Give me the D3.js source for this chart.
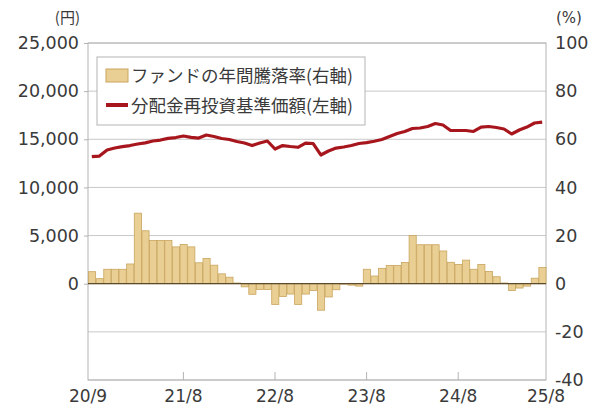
<!DOCTYPE html>
<html>
<head>
<meta charset="utf-8">
<script src="https://cdn.jsdelivr.net/npm/d3@7/dist/d3.min.js"></script>
<style>
  html, body { margin: 0; padding: 0; background: #fff; overflow: hidden; }
  svg { display: block; }
</style>
</head>
<body>
<svg id="chart"></svg>
<script>
// 月（20/9 〜 25/8）
const months = [
  '20/9','20/10','20/11','20/12',
  '21/1','21/2','21/3','21/4','21/5','21/6','21/7','21/8','21/9','21/10','21/11','21/12',
  '22/1','22/2','22/3','22/4','22/5','22/6','22/7','22/8','22/9','22/10','22/11','22/12',
  '23/1','23/2','23/3','23/4','23/5','23/6','23/7','23/8','23/9','23/10','23/11','23/12',
  '24/1','24/2','24/3','24/4','24/5','24/6','24/7','24/8','24/9','24/10','24/11','24/12',
  '25/1','25/2','25/3','25/4','25/5','25/6','25/7','25/8'
];
// ファンドの年間騰落率（%、右軸）
const annualReturn = [
  5.0, 2.1, 6.0, 6.0, 6.0, 8.2, 29.3, 22.0, 18.0, 18.0, 18.0, 15.3,
  16.3, 15.3, 8.7, 10.5, 7.7, 4.1, 2.7, 0.3, -1.3, -4.4, -2.4, -2.4,
  -8.6, -5.3, -4.3, -8.6, -4.3, -2.8, -11.0, -5.5, -2.5, -0.2, -0.6, -1.0,
  6.0, 3.2, 6.4, 7.6, 7.6, 8.8, 20.0, 16.2, 16.2, 16.2, 13.6, 8.9,
  8.0, 9.8, 6.0, 8.0, 5.1, 2.9, 0.3, -2.8, -1.8, -1.0, 2.3, 6.7
];
// 分配金再投資基準価額（円、左軸）
const navReinvested = [
  13190, 13260, 13890, 14090, 14230, 14350, 14510, 14630, 14820, 14920, 15100, 15180,
  15340, 15200, 15130, 15440, 15290, 15080, 14980, 14770, 14610, 14350, 14610, 14820,
  13990, 14350, 14250, 14170, 14610, 14560, 13370, 13780, 14090, 14200, 14350, 14560,
  14660, 14800, 14980, 15290, 15600, 15810, 16120, 16170, 16330, 16640, 16480, 15910,
  15910, 15910, 15810, 16270, 16330, 16220, 16070, 15550, 15960, 16270, 16690, 16790
];
const xTickLabels = ['20/9', '21/8', '22/8', '23/8', '24/8', '25/8'];
const leftTicks = [0, 5000, 10000, 15000, 20000, 25000];
const rightTicks = [-40, -20, 0, 20, 40, 60, 80, 100];
const legendLabels = ['ファンドの年間騰落率(右軸)', '分配金再投資基準価額(左軸)'];

const width = 596, height = 410;
const margin = { top: 43, right: 50, bottom: 30, left: 88 };
const innerWidth = width - margin.left - margin.right;
const innerHeight = height - margin.top - margin.bottom;
const numFont = 'DejaVu Sans, Liberation Sans, sans-serif';
const jpFont = 'Noto Sans CJK JP, sans-serif';
const textColor = '#3a3a3a';

const svg = d3.select('#chart').attr('width', width).attr('height', height);
const g = svg.append('g').attr('transform', `translate(${margin.left},${margin.top})`);

const x = d3.scaleBand().domain(months).range([0, innerWidth]).padding(0);
const yR = d3.scaleLinear().domain([-40, 100]).range([innerHeight, 0]);
const yL = d3.scaleLinear().domain([-10000, 25000]).range([innerHeight, 0]);
const bw = x.bandwidth();

// 罫線
g.append('g')
  .selectAll('line')
  .data(rightTicks.filter(d => d !== 0))
  .join('line')
  .attr('x1', 0).attr('x2', innerWidth)
  .attr('y1', d => yR(d)).attr('y2', d => yR(d))
  .attr('stroke', '#c8c8c8').attr('stroke-width', 1);

// 枠
g.append('rect')
  .attr('x', 0).attr('y', 0)
  .attr('width', innerWidth).attr('height', innerHeight)
  .attr('fill', 'none').attr('stroke', '#b4b4b4');

// 左軸
const axisLeft = d3.axisLeft(yL).tickValues(leftTicks).tickSize(4).tickSizeOuter(0)
  .tickFormat(d3.format(','));
const gl = g.append('g').call(axisLeft)
  .attr('font-size', 17.5).attr('font-family', numFont);
gl.select('.domain').remove();
gl.selectAll('.tick line').attr('stroke', '#b4b4b4');
gl.selectAll('.tick text').attr('x', -9).attr('fill', textColor);

// 右軸
const axisRight = d3.axisRight(yR).tickValues(rightTicks).tickSize(0);
const gr = g.append('g').attr('transform', `translate(${innerWidth},0)`).call(axisRight)
  .attr('font-size', 17.5).attr('font-family', numFont);
gr.select('.domain').remove();
gr.selectAll('.tick text').attr('x', 9).attr('fill', textColor)
  .text(d => d < 0 ? '-' + Math.abs(d) : d);

// 下軸
const tickPos = (m, i) => i === 0 ? 0 : Math.min(x(m) + bw * 1.5, innerWidth);
const gx = g.append('g').attr('transform', `translate(0,${innerHeight})`);
gx.selectAll('line')
  .data(xTickLabels.slice(1, -1))
  .join('line')
  .attr('x1', (m, i) => tickPos(m, i + 1)).attr('x2', (m, i) => tickPos(m, i + 1))
  .attr('y1', 0).attr('y2', -8)
  .attr('stroke', '#b4b4b4');
gx.selectAll('text')
  .data(xTickLabels)
  .join('text')
  .attr('x', (m, i) => tickPos(m, i))
  .attr('y', 22)
  .attr('text-anchor', 'middle')
  .attr('font-size', 17)
  .attr('font-family', numFont)
  .attr('fill', textColor)
  .text(d => d);

// 単位
svg.append('text').attr('x', 80).attr('y', 23).attr('text-anchor', 'end')
  .attr('font-family', jpFont).attr('font-size', 15).attr('fill', textColor).text('(円)');
svg.append('text').attr('x', 556).attr('y', 23)
  .attr('font-family', numFont).attr('font-size', 15).attr('fill', textColor).text('(%)');

// 棒グラフ
g.append('g')
  .selectAll('rect')
  .data(annualReturn)
  .join('rect')
  .attr('x', (d, i) => x(months[i]) + 0.5)
  .attr('width', bw - 0.5)
  .attr('y', d => yR(Math.max(0, d)))
  .attr('height', d => Math.abs(yR(d) - yR(0)))
  .attr('fill', '#e9cf93')
  .attr('stroke', '#c9a55e')
  .attr('stroke-width', 0.8);

// ゼロ線
g.append('line')
  .attr('x1', 0).attr('x2', innerWidth)
  .attr('y1', yR(0)).attr('y2', yR(0))
  .attr('stroke', '#5b4a2e').attr('stroke-width', 1.3);

// 折れ線
const line = d3.line()
  .x((d, i) => x(months[i]) + bw / 2)
  .y(d => yL(d));
g.append('path')
  .datum(navReinvested)
  .attr('d', line)
  .attr('fill', 'none')
  .attr('stroke', '#a8161d')
  .attr('stroke-width', 3.2)
  .attr('stroke-linejoin', 'round');

// 凡例
const lg = svg.append('g').attr('transform', 'translate(97,57)');
lg.append('rect')
  .attr('width', 268).attr('height', 68)
  .attr('fill', '#fff').attr('stroke', '#b4b4b4');
lg.append('rect')
  .attr('x', 9).attr('y', 12).attr('width', 22).attr('height', 13)
  .attr('fill', '#e9cf93').attr('stroke', '#c9a55e');
lg.append('line')
  .attr('x1', 9).attr('x2', 31).attr('y1', 48).attr('y2', 48)
  .attr('stroke', '#a8161d').attr('stroke-width', 4);
lg.selectAll('text.leg')
  .data(legendLabels)
  .join('text')
  .attr('class', 'leg')
  .attr('x', 34)
  .attr('y', (d, i) => 25 + i * 30)
  .attr('font-family', jpFont)
  .attr('font-size', 17.5)
  .attr('fill', textColor)
  .text(d => d);
</script>
</body>
</html>
